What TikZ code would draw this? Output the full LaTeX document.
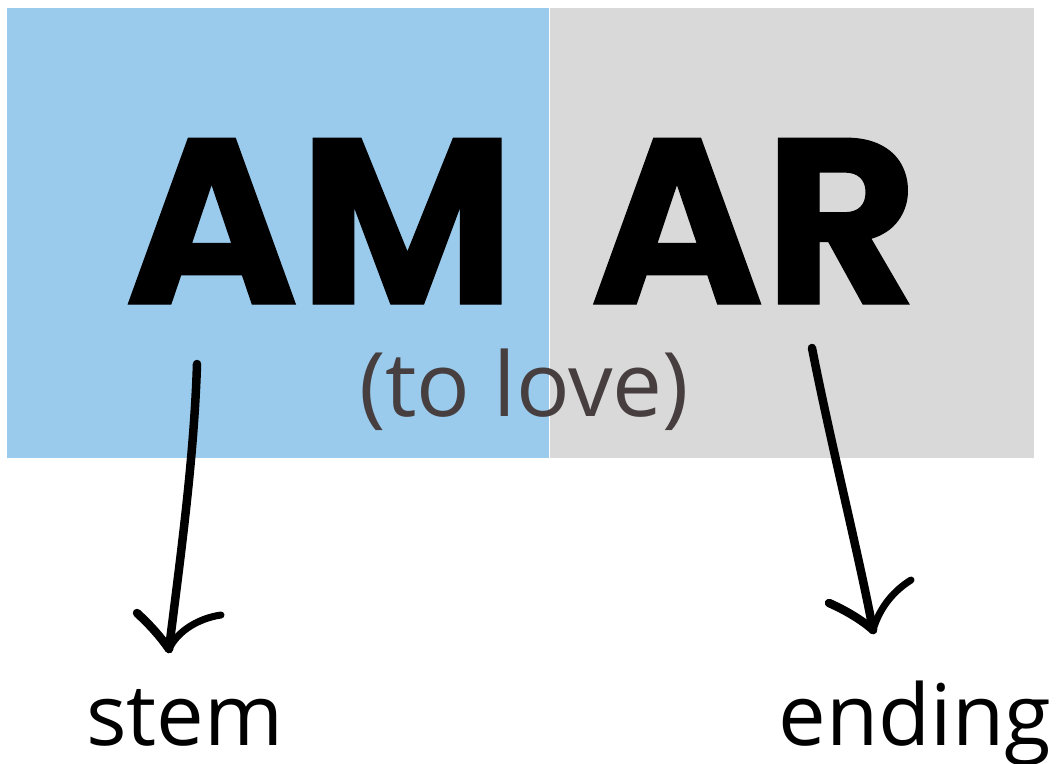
\documentclass[tikz,border=0pt]{standalone}
\usepackage{fontspec}
\setmainfont{Open Sans}
\newfontfamily\heavy[FakeBold=0.6]{Poppins}
\definecolor{stemblue}{HTML}{9ACAEC}
\definecolor{endgray}{HTML}{D9D9D9}
\definecolor{lovegray}{HTML}{463E3F}
\tikzset{
  bigword/.style={anchor=base, inner sep=0pt, font=\heavy\bfseries\fontsize{236}{236}\selectfont, text=black},
  label/.style={anchor=base, inner sep=0pt, font=\fontsize{85}{85}\selectfont, text=black},
  gloss/.style={anchor=base, inner sep=0pt, font=\fontsize{89}{89}\selectfont, text=lovegray},
  inkline/.style={line width=8.5pt, line cap=round, line join=round, draw=black},
}
\begin{document}
\begin{tikzpicture}[x=1pt,y=-1pt]
\useasboundingbox (0,0) rectangle (1060,763);
\fill[stemblue] (7,8) rectangle (549,458);
\fill[endgray] (550,8) rectangle (1034,458);
\node[bigword] (am) at (320,304) {AM};
\node[bigword] (ar) at (754,304) {AR};
\node[gloss] (love) at (524,416) {(to love)};
\node[label] (stem) at (185,745) {stem};
\node[label] (ending) at (915,745) {ending};
\coordinate (s1) at (197,364);
\coordinate (t1) at (169,649);
\coordinate (s2) at (812,348);
\coordinate (t2) at (873,630);
\draw[inkline] (s1) .. controls (194,460) and (180,560) .. (t1);
\draw[inkline] (137,613) .. controls (150,625) and (160,636) .. (t1);
\draw[inkline, line width=7pt] (t1) .. controls (178,630) and (200,618) .. (221,615);
\draw[inkline] (s2) .. controls (830,440) and (860,560) .. (t2);
\draw[inkline] (829,603) .. controls (845,610) and (862,620) .. (t2);
\draw[inkline, line width=7pt] (t2) .. controls (880,606) and (895,590) .. (911,580);
\end{tikzpicture}
\end{document}
